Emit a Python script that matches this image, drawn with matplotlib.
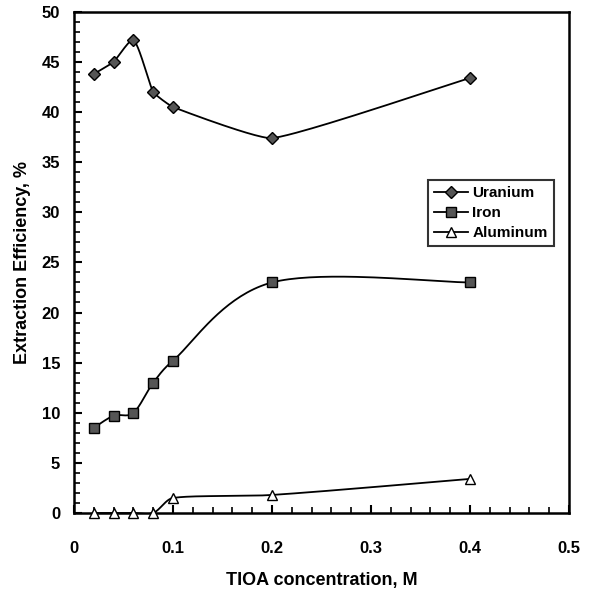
import numpy as np
import matplotlib
matplotlib.use("Agg")
import matplotlib.pyplot as plt
from matplotlib.ticker import MultipleLocator

plt.rcParams["font.family"] = ["Liberation Sans", "DejaVu Sans"]
plt.rcParams["font.weight"] = "bold"

# TIOA concentration, M
conc = [0.02, 0.04, 0.06, 0.08, 0.1, 0.2, 0.4]
uranium = [43.8, 45.0, 47.2, 42.0, 40.5, 37.4, 43.4]
iron = [8.5, 9.7, 10.0, 13.0, 15.2, 23.0, 23.0]
aluminum = [0.0, 0.0, 0.0, 0.0, 1.5, 1.8, 3.4]

XS, YS = 990.0, 10.0  # approx pixels per data unit, used for smoothing only


def smooth(x, y, n=40, cap=0.25):
    # Excel-like smoothed line: Bezier segments, control offsets capped
    x = np.asarray(x, float) * XS
    y = np.asarray(y, float) * YS
    px = np.concatenate([[x[0]], x, [x[-1]]])
    py = np.concatenate([[y[0]], y, [y[-1]]])
    xs, ys = [], []
    for i in range(1, len(px) - 2):
        p0 = np.array([px[i - 1], py[i - 1]])
        p1 = np.array([px[i], py[i]])
        p2 = np.array([px[i + 1], py[i + 1]])
        p3 = np.array([px[i + 2], py[i + 2]])
        seg = np.hypot(*(p2 - p1))
        d1 = (p2 - p0) / 6.0
        d2 = (p3 - p1) / 6.0
        for d in (d1, d2):
            L = np.hypot(*d)
            if L > cap * seg and L > 0:
                d *= cap * seg / L
        c1 = p1 + d1
        c2 = p2 - d2
        t = np.linspace(0, 1, n)[:, None]
        b = ((1 - t) ** 3) * p1 + 3 * ((1 - t) ** 2) * t * c1 \
            + 3 * (1 - t) * t ** 2 * c2 + t ** 3 * p2
        xs.append(b[:, 0] / XS)
        ys.append(b[:, 1] / YS)
    return np.concatenate(xs), np.concatenate(ys)


fig = plt.figure(figsize=(6.02, 5.91), dpi=100)
ax = fig.add_axes([0.123, 0.132, 0.822, 0.848])

series = [
    ("Uranium", uranium, "D", "#555555", 6, 0.13),
    ("Iron", iron, "s", "#555555", 6.5, 0.42),
    ("Aluminum", aluminum, "^", "white", 7, 0.3),
]
for name, vals, mk, fc, ms, cap in series:
    sx, sy = smooth(conc, vals, cap=cap)
    ax.plot(sx, sy, color="black", lw=1.3, zorder=2)
    ax.plot(conc, vals, linestyle="none", marker=mk, markersize=ms,
            markerfacecolor=fc, markeredgecolor="black", markeredgewidth=1.0,
            zorder=3, clip_on=False)
    ax.plot([], [], color="black", lw=1.3, marker=mk, markersize=ms,
            markerfacecolor=fc, markeredgecolor="black", label=name)

ax.set_xlim(0, 0.5)
ax.set_ylim(0, 50)
ax.xaxis.set_minor_locator(MultipleLocator(0.02))
ax.yaxis.set_major_locator(MultipleLocator(5))
ax.yaxis.set_minor_locator(MultipleLocator(1))
ax.set_xticks([0, 0.1, 0.2, 0.3, 0.4, 0.5])
ax.set_xticklabels(["0", "0.1", "0.2", "0.3", "0.4", "0.5"])
ax.tick_params(which="major", direction="in", length=6, width=1.5,
               labelsize=12)
ax.tick_params(which="minor", direction="in", length=4, width=1.2)
ax.tick_params(axis="x", which="major", pad=20)
ax.tick_params(axis="y", which="major", pad=10)
for s in ax.spines.values():
    s.set_linewidth(1.8)

ax.set_xlabel("TIOA concentration, M", fontsize=13, fontweight="bold",
              labelpad=12)
ax.set_ylabel("Extraction Efficiency, %", fontsize=13, fontweight="bold",
              labelpad=8)

leg = ax.legend(loc="upper right", bbox_to_anchor=(0.985, 0.68),
                fontsize=11, frameon=True, fancybox=False,
                edgecolor="black", handlelength=2.2, borderpad=0.4,
                labelspacing=0.4, handletextpad=0.3)
leg.get_frame().set_linewidth(1.5)
for t in leg.get_texts():
    t.set_fontweight("bold")

fig.savefig("out.png", dpi=100)
